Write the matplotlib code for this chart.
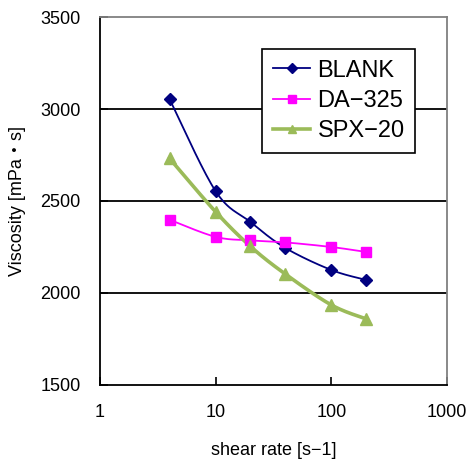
import numpy as np
import matplotlib
matplotlib.use("Agg")
import matplotlib.pyplot as plt
from matplotlib.ticker import FixedLocator, NullLocator, FixedFormatter

plt.rcParams['font.family'] = ['Liberation Sans', 'Noto Sans CJK JP', 'DejaVu Sans']

# 読み取った値
shear_rate = [4, 10, 20, 40, 100, 200]
blank = [3053, 2553, 2386, 2245, 2125, 2071]
da325 = [2398, 2305, 2286, 2275, 2250, 2223]
spx20 = [2731, 2441, 2253, 2103, 1935, 1859]
labels = ["BLANK", "DA\u2212325", "SPX\u221220"]
x_ticks = [1, 10, 100, 1000]
y_ticks = [1500, 2000, 2500, 3000, 3500]


def smooth(xs, ys, n=30):
    # Excelっぽい平滑線 (Catmull-Rom, log軸上で)
    lx = np.log10(xs)
    yy = np.array(ys, dtype=float)
    sx, sy = 1.0 / 3.0, 1.0 / 2000.0
    px = lx / sx
    py = yy * sy
    P = np.column_stack([px, py])
    P = np.vstack([P[0], P, P[-1]])
    out = []
    for i in range(1, len(P) - 2):
        p0, p1, p2, p3 = P[i - 1], P[i], P[i + 1], P[i + 2]
        c1 = p1 + (p2 - p0) / 6.0
        c2 = p2 - (p3 - p1) / 6.0
        t = np.linspace(0, 1, n)[:, None]
        seg = ((1 - t) ** 3 * p1 + 3 * (1 - t) ** 2 * t * c1
               + 3 * (1 - t) * t ** 2 * c2 + t ** 3 * p2)
        out.append(seg)
    out = np.vstack(out)
    return 10 ** (out[:, 0] * sx), out[:, 1] / sy


fig = plt.figure(figsize=(4.73, 4.61), dpi=100)
ax = fig.add_axes([0.2114, 0.1649, 0.7336, 0.7982])

series = [
    (blank, "#000080", "D", 6.5, 1.3),
    (da325, "#FF00FF", "s", 7.5, 1.3),
    (spx20, "#9BBB59", "^", 8.5, 2.6),
]
for (vals, col, mk, ms, lw), lab in zip(series, labels):
    cx, cy = smooth(shear_rate, vals)
    ax.plot(cx, cy, color=col, lw=lw, zorder=3)
    ax.plot(shear_rate, vals, ls="none", marker=mk, ms=ms, color=col, zorder=4)
    ax.plot([], [], color=col, lw=lw, marker=mk, ms=ms * 0.75, label=lab)

ax.set_xscale("log")
ax.set_xlim(1, 1000)
ax.set_ylim(1500, 3500)
ax.xaxis.set_major_locator(FixedLocator(x_ticks))
ax.xaxis.set_major_formatter(FixedFormatter([str(v) for v in x_ticks]))
ax.xaxis.set_minor_locator(NullLocator())
ax.set_yticks(y_ticks)

for y in [2000, 2500, 3000]:
    ax.axhline(y, color="black", lw=1.3, zorder=1)

for s in ["top", "right"]:
    ax.spines[s].set_color("#808080")
    ax.spines[s].set_linewidth(1.3)
for s in ["left", "bottom"]:
    ax.spines[s].set_color("black")
    ax.spines[s].set_linewidth(1.3)

ax.tick_params(axis="both", direction="in", length=6, width=1.2,
               labelsize=13, pad=14)
ax.tick_params(axis="x", pad=14)

ax.set_xlabel("shear rate [s\u22121]", fontsize=13, labelpad=15)
ax.set_ylabel("Viscosity [mPa\u30fbs]", fontsize=13, labelpad=10)

leg = ax.legend(loc="upper left", bbox_to_anchor=(0.467, 0.913),
                fontsize=17, frameon=True, fancybox=False,
                edgecolor="black", handlelength=1.6, handletextpad=0.3,
                borderpad=0.45, labelspacing=0.35, borderaxespad=0)
leg.get_frame().set_linewidth(1.2)
leg.get_frame().set_alpha(1)

fig.savefig("out.png", dpi=100)
